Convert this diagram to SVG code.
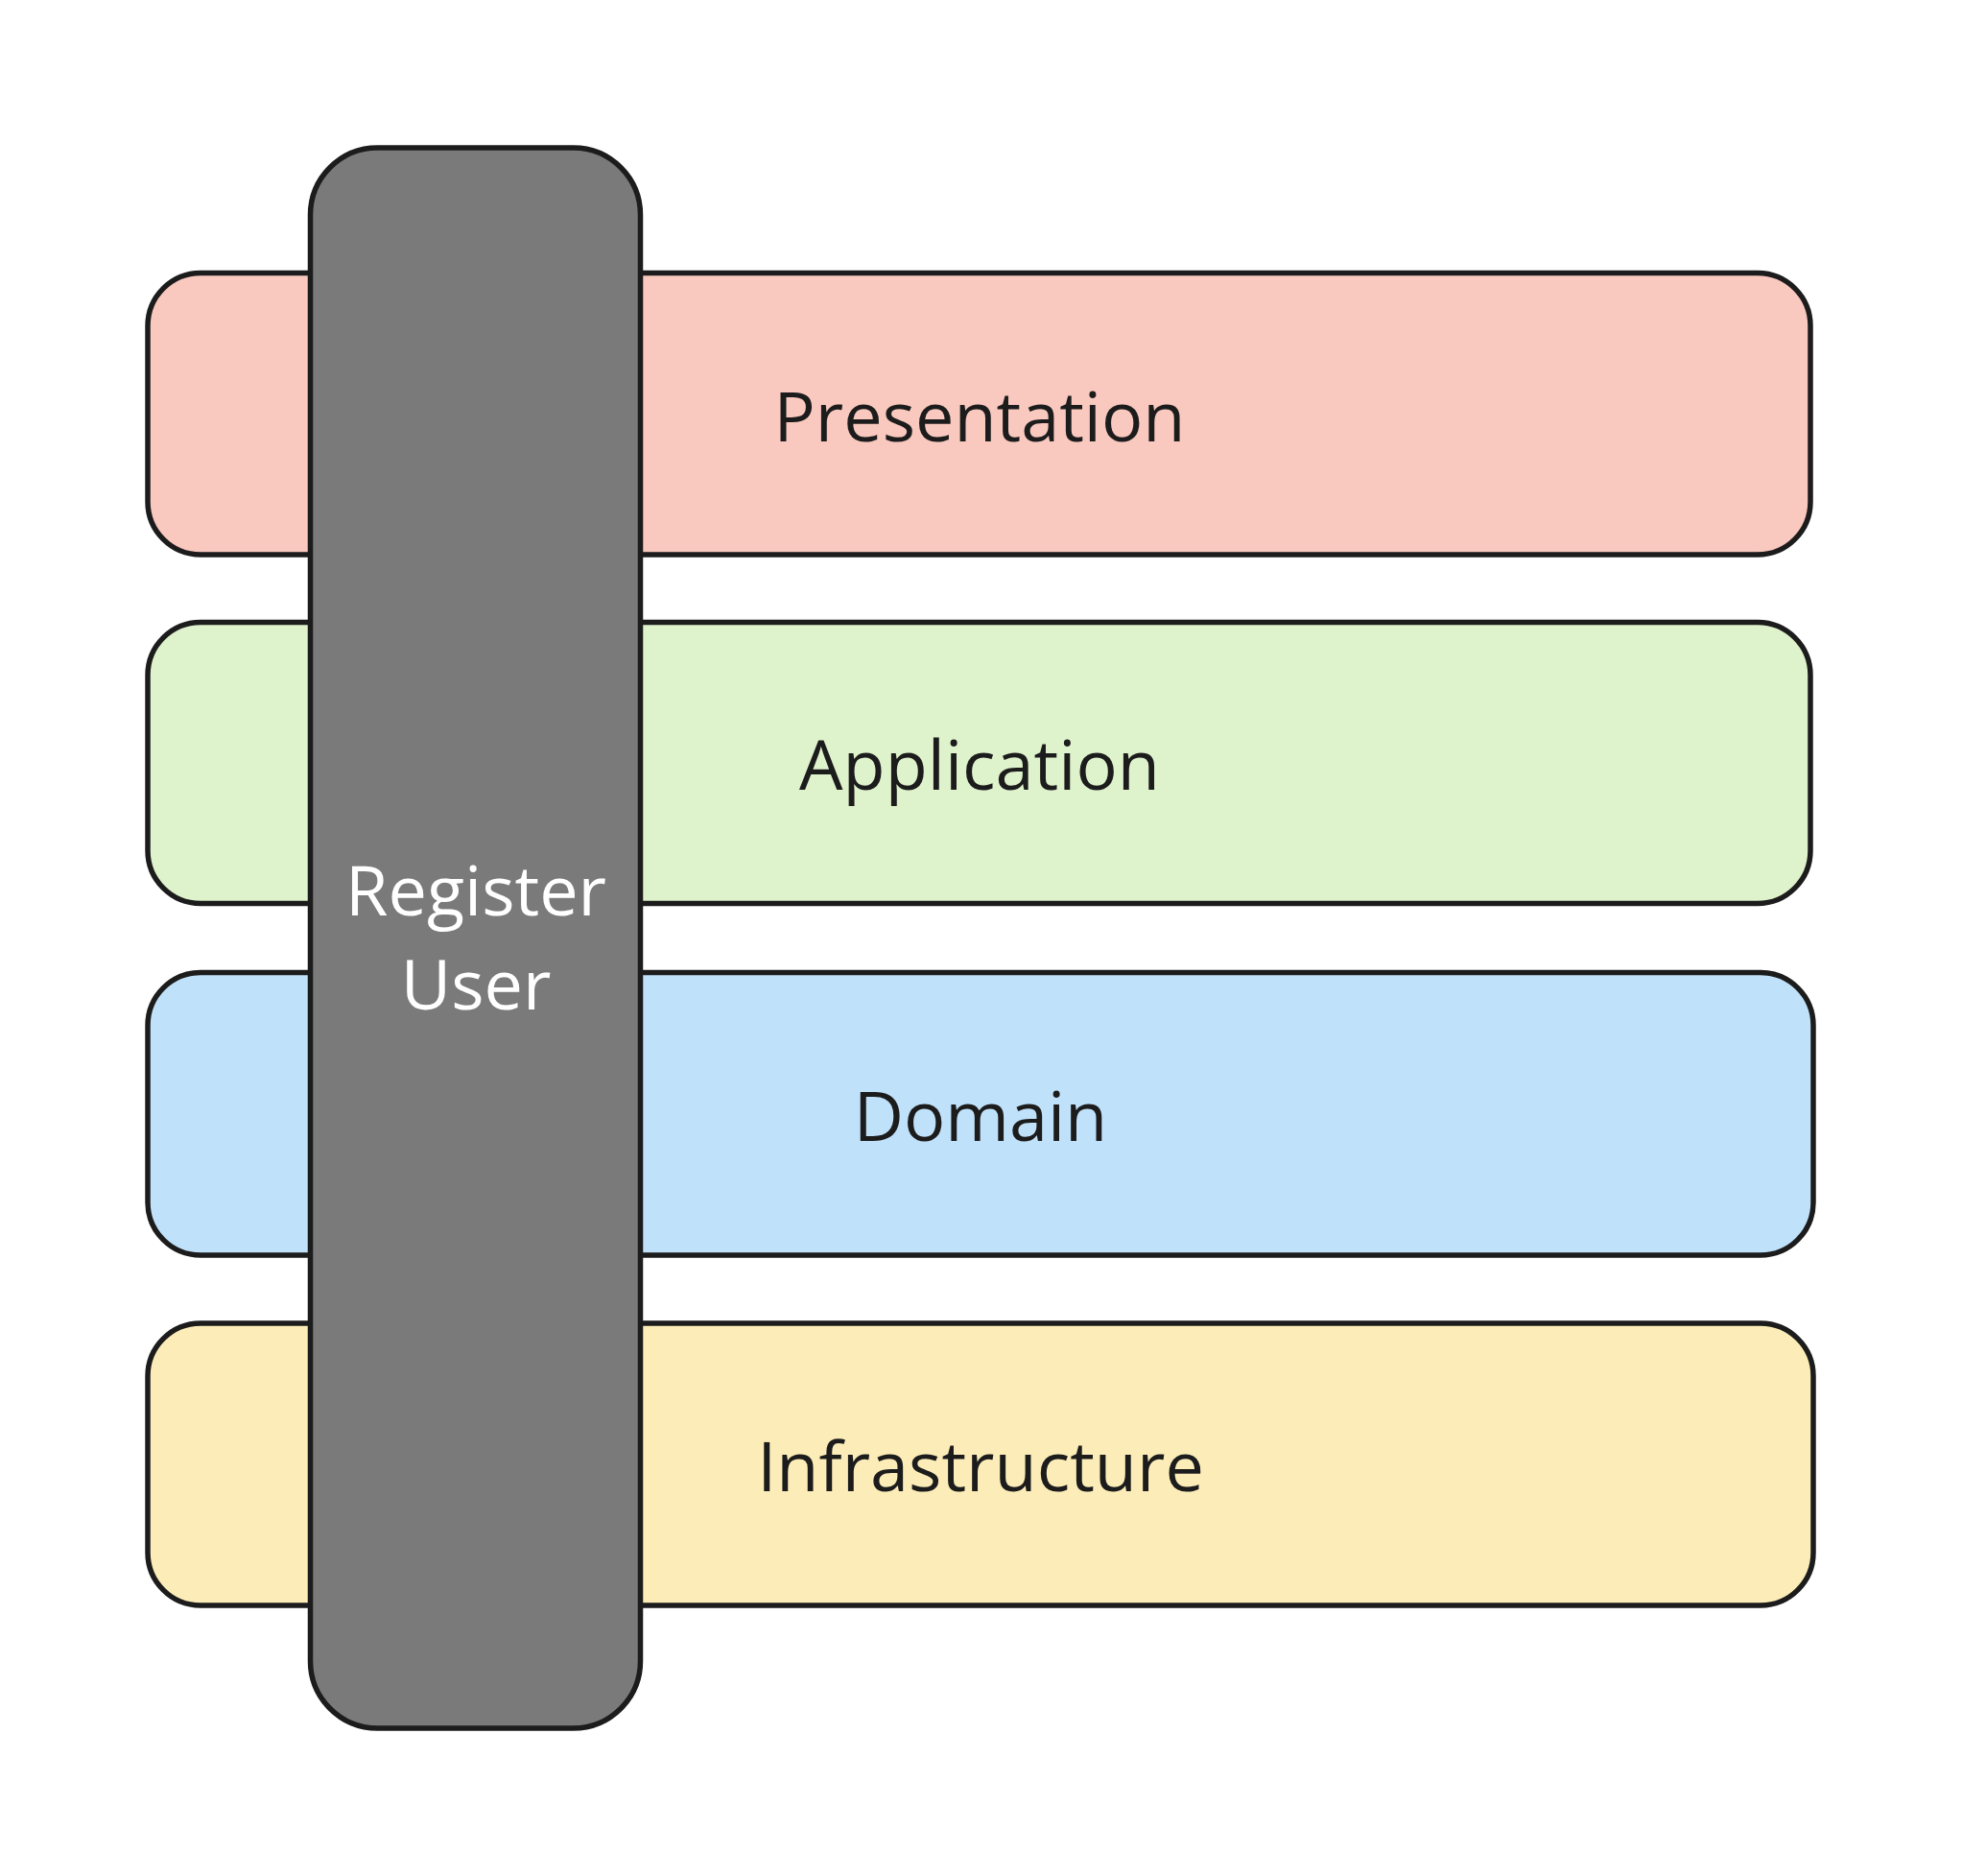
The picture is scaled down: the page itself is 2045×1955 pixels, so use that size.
<svg xmlns="http://www.w3.org/2000/svg" width="2045" height="1955" viewBox="0 0 2045 1955">
  <style>
    .band { stroke: #1c1c1c; stroke-width: 5.5; }
    .lbl { font-family: "Open Sans", "Noto Sans", "DejaVu Sans", sans-serif; font-size: 72px; text-anchor: middle; fill: #1c1c1c; }
    .lblw { font-family: "Open Sans", "Noto Sans", "DejaVu Sans", sans-serif; font-size: 72px; text-anchor: middle; fill: #ffffff; }
  </style>
  <rect x="0" y="0" width="2045" height="1955" fill="#ffffff"/>
  <g id="presentation">
    <rect class="band" x="154" y="284.5" width="1733" height="293.5" rx="55" ry="55" fill="#F9C8BE"/>
    <text class="lbl" x="1021" y="460">Presentation</text>
  </g>
  <g id="application">
    <rect class="band" x="154" y="648.5" width="1733" height="293" rx="55" ry="55" fill="#DEF2CC"/>
    <text class="lbl" x="1021" y="823">Application</text>
  </g>
  <g id="domain">
    <rect class="band" x="154" y="1013.5" width="1736" height="294.5" rx="55" ry="55" fill="#C0E1FA"/>
    <text class="lbl" x="1022" y="1189">Domain</text>
  </g>
  <g id="infrastructure">
    <rect class="band" x="154" y="1379" width="1736" height="294" rx="55" ry="55" fill="#FCEDB8"/>
    <text class="lbl" x="1022" y="1554">Infrastructure</text>
  </g>
  <g id="register-user">
    <rect class="band" x="323.5" y="154" width="344" height="1647" rx="70" ry="70" fill="#7A7A7A"/>
    <text class="lblw" x="496" y="954">Register</text>
    <text class="lblw" x="496" y="1052">User</text>
  </g>
  <g id="connectors"></g>
</svg>
